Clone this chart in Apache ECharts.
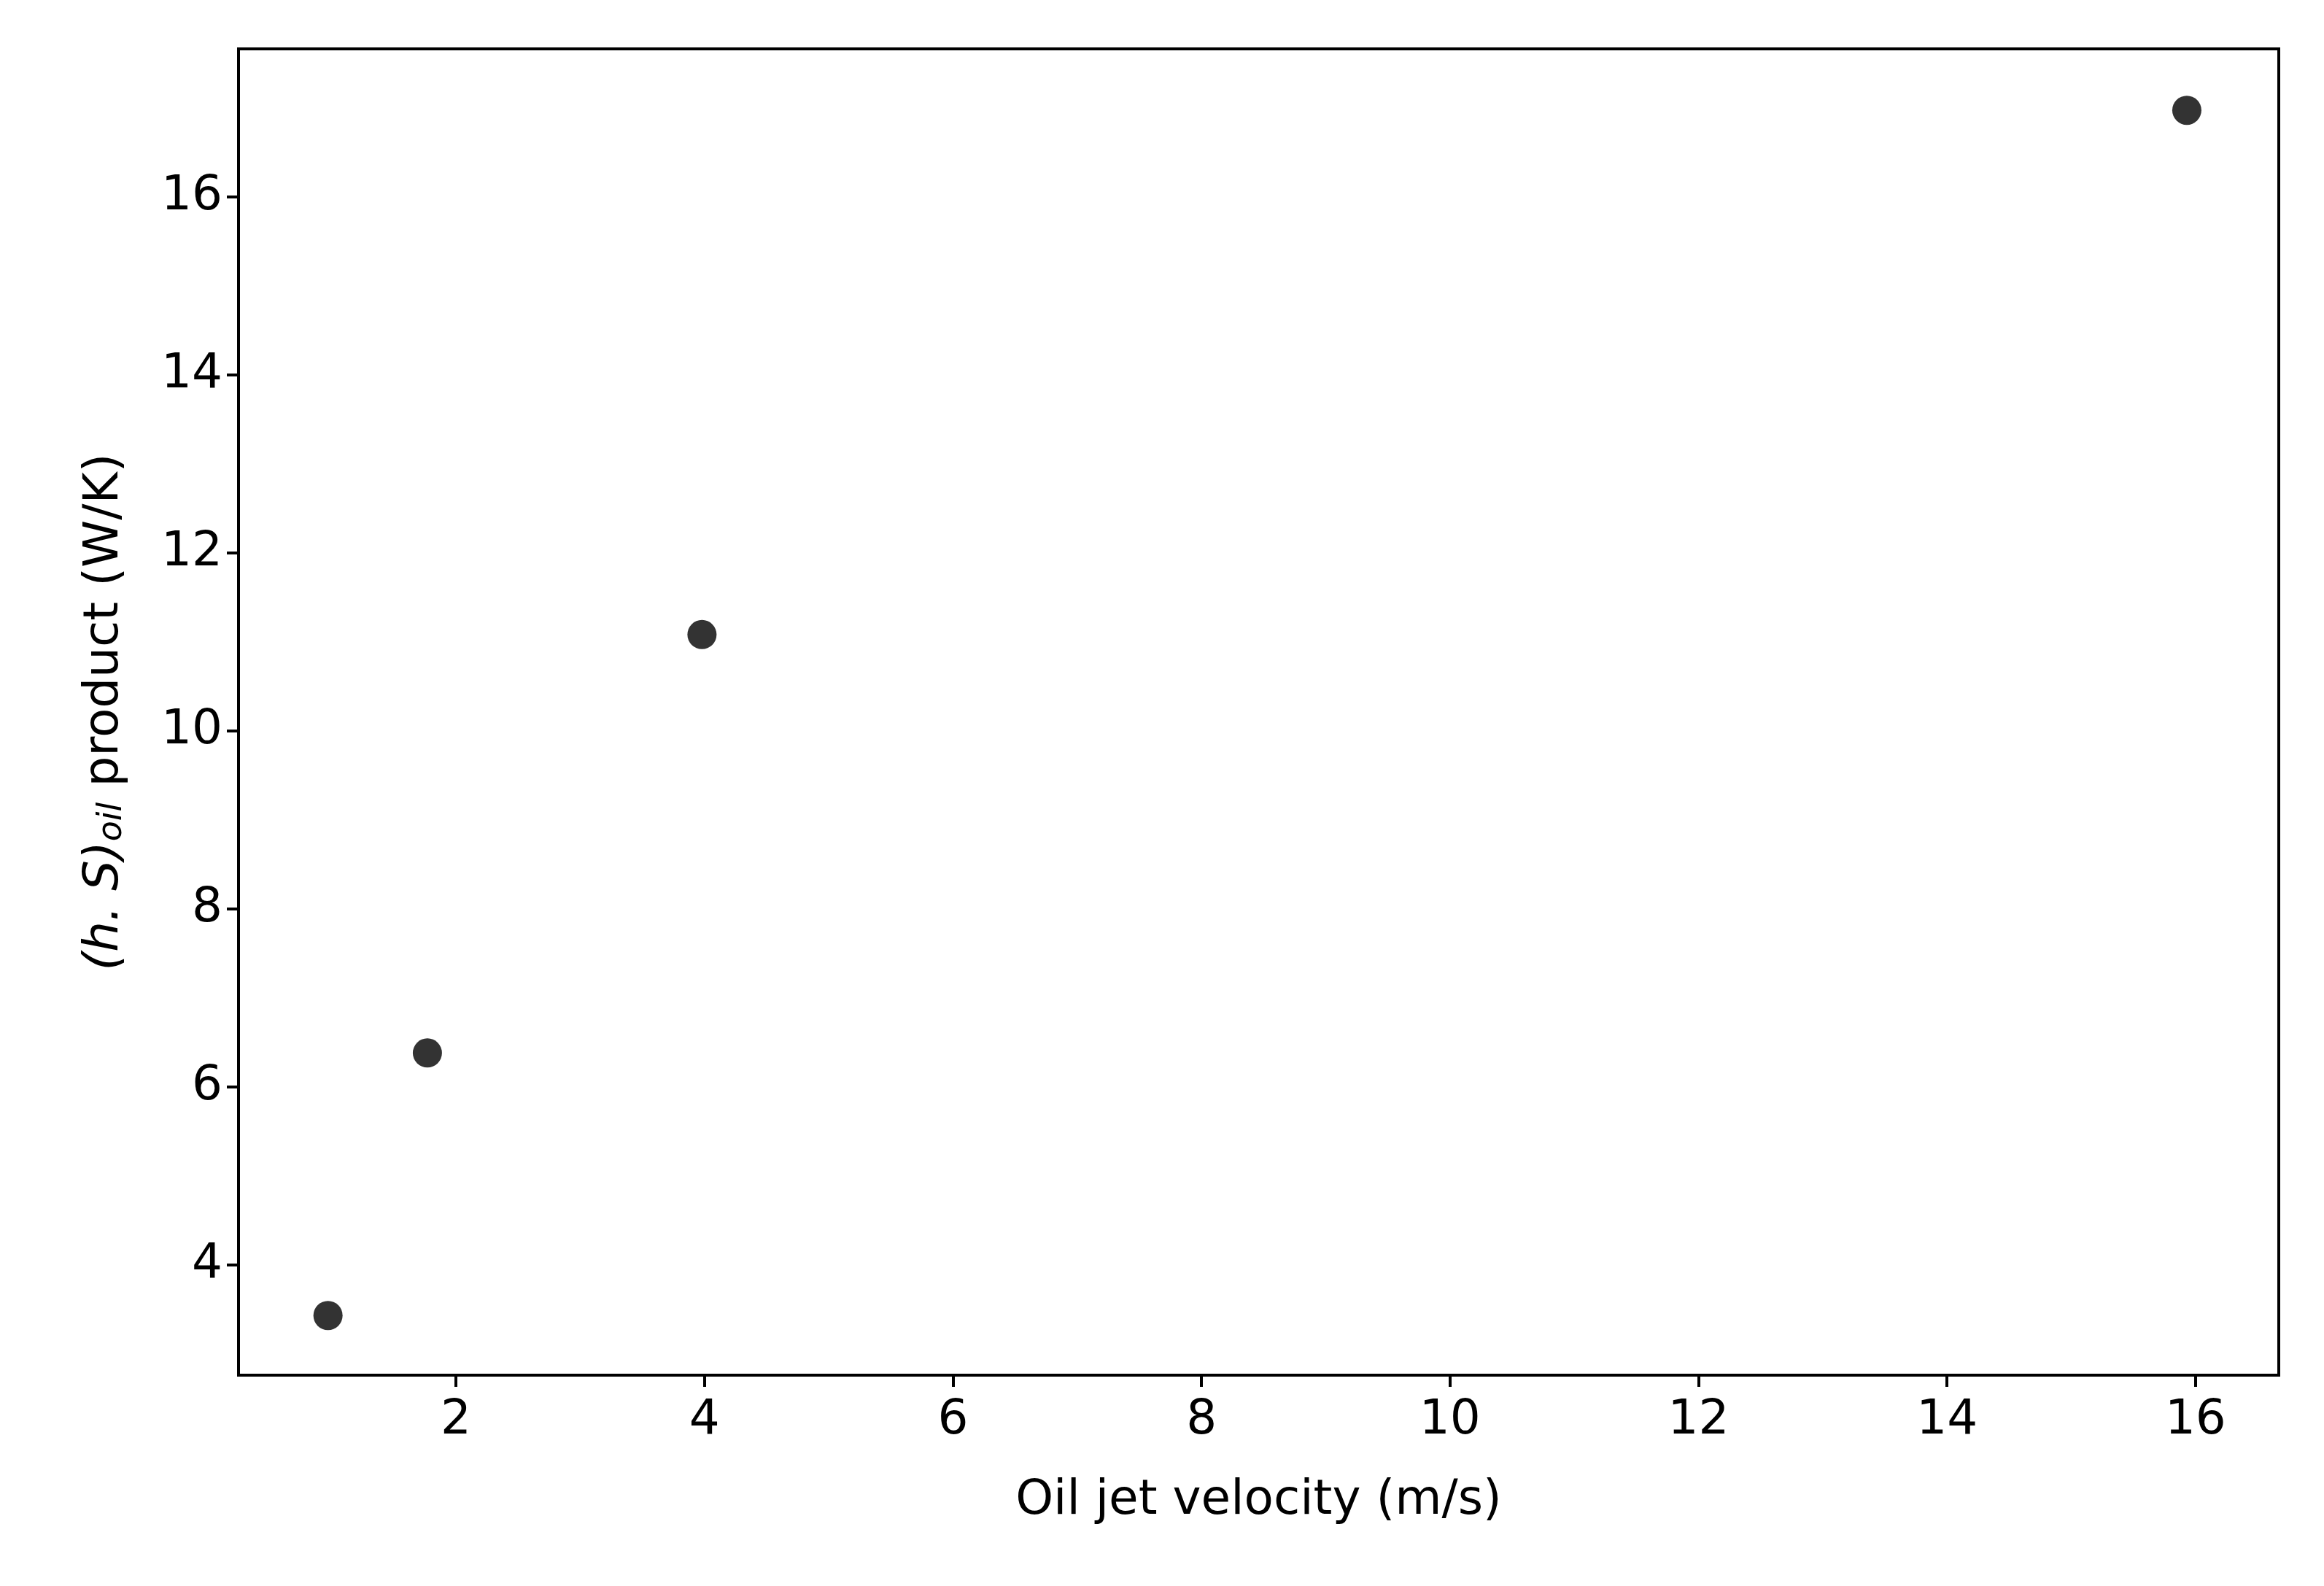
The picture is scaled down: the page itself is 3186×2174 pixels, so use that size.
<!DOCTYPE html>
<html><head><meta charset="utf-8">
<script src="https://cdn.jsdelivr.net/npm/echarts@6/dist/echarts.min.js"></script>
<style>html,body{margin:0;background:#fff}#c{width:3186px;height:2174px}</style>
</head><body><div id="c"></div>
<script>
const velocity = [0.97, 1.77, 3.98, 15.93];
const hsOil = [3.43, 6.38, 11.08, 16.97];
const xTicks = [2, 4, 6, 8, 10, 12, 14, 16];
const yTicks = [4, 6, 8, 10, 12, 14, 16];

const chart = echarts.init(document.getElementById('c'));
const font = 'DejaVu Sans';
const axisCommon = {
  axisLine: {show: true, lineStyle: {color: '#000', width: 4}},
  axisTick: {show: true, length: 16, lineStyle: {color: '#000', width: 4}},
  axisLabel: {color: '#000', fontSize: 66, fontFamily: font, margin: 22},
  splitLine: {show: false}
};
chart.setOption({
  backgroundColor: '#fff',
  animation: false,
  grid: {left: 327, right: 62, top: 67, bottom: 289, show: true, borderColor: '#000', borderWidth: 4},
  xAxis: Object.assign({
    type: 'value', min: 0.25, max: 16.67, interval: 2,
    name: 'Oil jet velocity (m/s)', nameLocation: 'middle', nameGap: 140,
    nameTextStyle: {color: '#000', fontSize: 66, fontFamily: font},
    axisLabel: {color: '#000', fontSize: 66, fontFamily: font, margin: 30,
      customValues: xTicks},
    axisTick: {show: true, length: 16, lineStyle: {color: '#000', width: 4}, customValues: xTicks}
  }, {axisLine: axisCommon.axisLine, splitLine: {show: false}}),
  yAxis: Object.assign({
    type: 'value', min: 2.76, max: 17.66,
    name: '{i|(h. S)}{s|oil}{n| product (W/K)}', nameLocation: 'middle', nameGap: 150,
    nameTextStyle: {color: '#000', fontSize: 66, fontFamily: font,
      rich: {
        i: {fontSize: 66, fontStyle: 'italic', fontFamily: font, color: '#000'},
        s: {fontSize: 46, fontStyle: 'italic', fontFamily: font, color: '#000', verticalAlign: 'bottom', padding: [20, 0, 0, 0]},
        n: {fontSize: 66, fontFamily: font, color: '#000'}
      }},
    axisLabel: {color: '#000', fontSize: 66, fontFamily: font, margin: 22, customValues: yTicks},
    axisTick: {show: true, length: 16, lineStyle: {color: '#000', width: 4}, customValues: yTicks}
  }, {axisLine: axisCommon.axisLine, splitLine: {show: false}}),
  series: [{
    type: 'scatter', symbolSize: 40,
    itemStyle: {color: '#000'},
    data: velocity.map((v, i) => [v, hsOil[i]])
  }]
});
</script></body></html>
